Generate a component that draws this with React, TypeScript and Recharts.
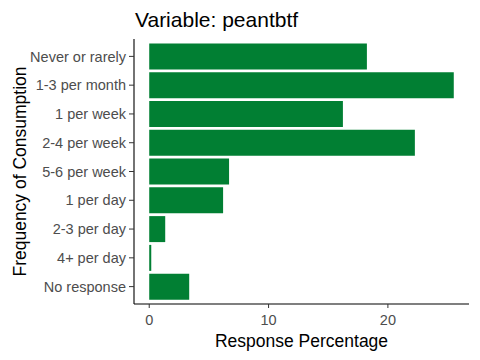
import { BarChart, Bar, XAxis, YAxis, Label } from "recharts";

const categories = [
  "Never or rarely",
  "1-3 per month",
  "1 per week",
  "2-4 per week",
  "5-6 per week",
  "1 per day",
  "2-3 per day",
  "4+ per day",
  "No response",
];
const percentages = [18.24, 25.52, 16.23, 22.26, 6.69, 6.19, 1.34, 0.17, 3.35];
const xTicks = [0, 10, 20];

const FONT = "'Liberation Sans', Arial, sans-serif";
const BAR_GREEN = "#017f33";

export default function App() {
  const data = categories.map((c, i) => ({ name: c, value: percentages[i] }));
  // ggplot-style 5% expansion on the numeric axis
  const max = Math.max(...percentages);
  const pad = max * 0.05;

  return (
    <div style={{ position: "absolute", left: 0, top: 0, width: 480, height: 360, background: "#fff", fontFamily: FONT }}>
      <div
        style={{
          position: "absolute",
          left: 135,
          top: 9,
          fontSize: 21,
          lineHeight: 1,
          color: "#000",
          whiteSpace: "nowrap",
        }}
      >
        Variable: peantbtf
      </div>
      <BarChart
        width={480}
        height={360}
        data={data}
        layout="vertical"
        margin={{ top: 39, right: 11, bottom: 0, left: 0 }}
        barCategoryGap="5%"
        style={{ fontFamily: FONT }}
      >
        <XAxis
          type="number"
          domain={[-pad, max + pad]}
          ticks={xTicks}
          allowDataOverflow
          height={56}
          tickSize={4}
          tickMargin={7}
          tick={{ fill: "#4d4d4d", fontSize: 14.5 }}
          tickLine={{ stroke: "#333" }}
          axisLine={{ stroke: "#000", strokeWidth: 1.1 }}
        >
          <Label value="Response Percentage" position="insideBottom" offset={13} style={{ fontSize: 17.5, fill: "#000" }} />
        </XAxis>
        <YAxis
          type="category"
          dataKey="name"
          width={134}
          padding={{ top: 3, bottom: 3 }}
          tickSize={5}
          tickMargin={3}
          interval={0}
          tick={{ fill: "#4d4d4d", fontSize: 14.5 }}
          tickLine={{ stroke: "#333" }}
          axisLine={{ stroke: "#000", strokeWidth: 1.1 }}
        >
          <Label
            value="Frequency of Consumption"
            angle={-90}
            position="insideLeft"
            offset={20}
            style={{ fontSize: 17.5, fill: "#000", textAnchor: "middle" }}
          />
        </YAxis>
        <Bar dataKey="value" fill={BAR_GREEN} isAnimationActive={false} />
      </BarChart>
    </div>
  );
}
